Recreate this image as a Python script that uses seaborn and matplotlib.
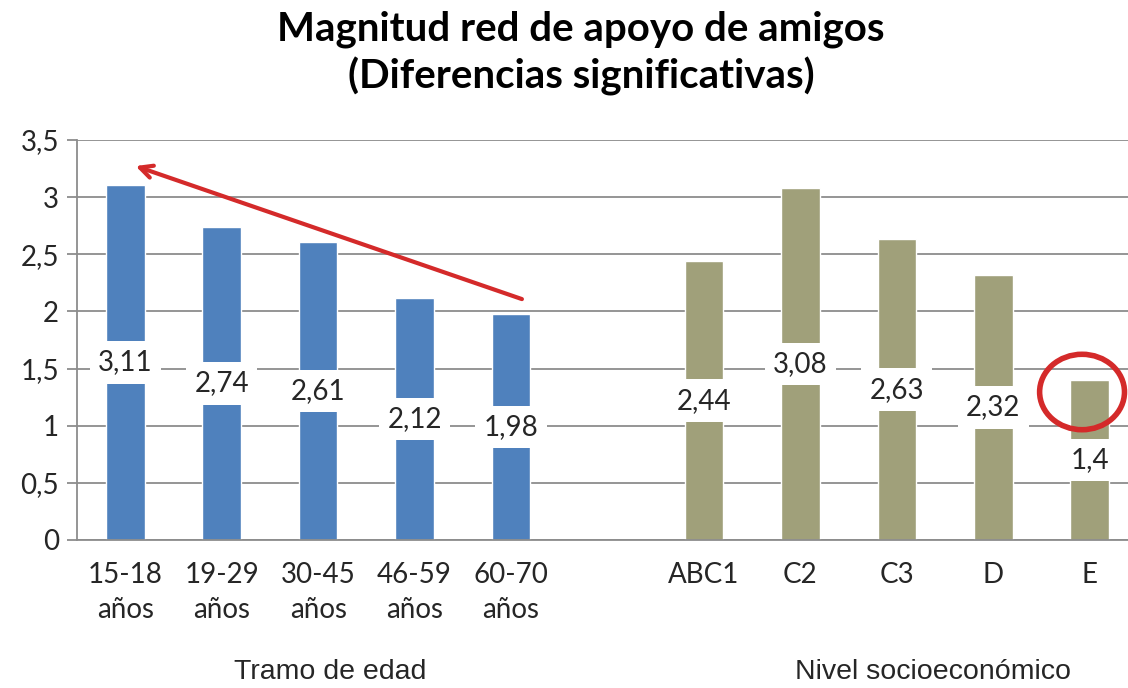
import numpy as np
import pandas as pd
import matplotlib.pyplot as plt
import seaborn as sns
from matplotlib.patches import Ellipse

# Data
edad_labels = ['15-18\naños', '19-29\naños', '30-45\naños', '46-59\naños', '60-70\naños']
edad_values = [3.11, 2.74, 2.61, 2.12, 1.98]
nse_labels = ['ABC1', 'C2', 'C3', 'D', 'E']
nse_values = [2.44, 3.08, 2.63, 2.32, 1.4]
group_names = ['Tramo de edad', 'Nivel socioeconómico']

order = edad_labels + [''] + nse_labels
df = pd.DataFrame({
    'cat': edad_labels + nse_labels,
    'val': edad_values + nse_values,
    'grupo': [group_names[0]] * len(edad_labels) + [group_names[1]] * len(nse_labels),
})

sns.set_style('white')
plt.rcParams['font.family'] = ['Lato', 'DejaVu Sans']

fig = plt.figure(figsize=(11.28, 6.88), dpi=100)
ax = fig.add_axes([77 / 1128, 148 / 688, 1061 / 1128, 400 / 688])

sns.barplot(data=df, x='cat', y='val', hue='grupo', order=order, dodge=False,
            palette={group_names[0]: '#4F81BD', group_names[1]: '#A0A07A'},
            saturation=1, width=0.4, legend=False, ax=ax, zorder=2)

ax.set_xlim(-0.5, len(order) - 0.5)
ax.set_ylim(0, 3.5)
ax.set_yticks(np.arange(0, 3.51, 0.5))
ax.set_yticklabels([f'{v:g}'.replace('.', ',') for v in np.arange(0, 3.51, 0.5)], fontsize=20)
ax.yaxis.grid(True, color='#8c8c8c', linewidth=1.3, zorder=0)
ax.set_axisbelow(True)

# category labels centered, tick marks at slot boundaries
ax.set_xticks(range(len(order)))
ax.set_xticklabels(order, fontsize=20, linespacing=1.4)
ax.tick_params(axis='x', length=0, pad=16)
ax.set_xticks(np.arange(-0.5, len(order)), minor=True)
ax.tick_params(axis='x', which='minor', length=7, color='#8c8c8c', width=1.3, direction='out')
ax.tick_params(axis='y', length=7, color='#8c8c8c', width=1.3, direction='out', left=True, pad=6)
ax.set_xlabel('')
ax.set_ylabel('')

for s in ['top', 'right']:
    ax.spines[s].set_visible(False)
for s in ['left', 'bottom']:
    ax.spines[s].set_color('#8c8c8c')
    ax.spines[s].set_linewidth(1.3)

# value labels in middle of bars
for cat, v in zip(df['cat'], df['val']):
    xi = order.index(cat)
    ax.text(xi, v / 2, f'{v:g}'.replace('.', ','), ha='center', va='center', fontsize=20,
            zorder=4, bbox=dict(boxstyle='square,pad=0.3', fc='white', ec='none'))

# red arrow showing trend by age
ax.annotate('', xy=(0.08, 3.28), xytext=(4.14, 2.1),
            arrowprops=dict(arrowstyle='->,head_length=0.9,head_width=0.45', color='#D42A2A', lw=3),
            zorder=5)
# red circle on E
ax.add_patch(Ellipse((9.92, 1.295), 0.88, 0.66, fill=False, ec='#D42A2A', lw=4, zorder=5, clip_on=False))

fig.text(0.515, 0.985, 'Magnitud red de apoyo de amigos\n(Diferencias significativas)',
         ha='center', va='top', fontsize=29, fontweight='bold', linespacing=1.3, color='black')
fig.text(330 / 1128, 16 / 688, group_names[0], ha='center', va='center', fontsize=20.5,
         family=['Liberation Sans'])
fig.text(933 / 1128, 16 / 688, group_names[1], ha='center', va='center', fontsize=20.5,
         family=['Liberation Sans'])

fig.savefig('out.png', dpi=100)
plt.close()
